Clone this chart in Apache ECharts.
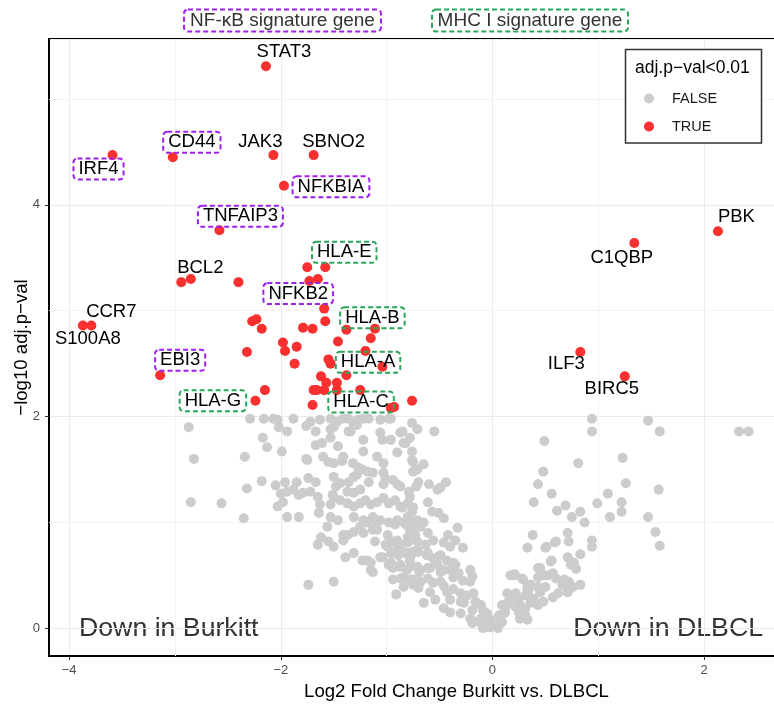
<!DOCTYPE html>
<html>
<head>
<meta charset="utf-8">
<script src="https://cdn.jsdelivr.net/npm/echarts@6/dist/echarts.min.js"></script>
<style>
  html, body { margin: 0; padding: 0; background: #fff; }
  #chart { width: 774px; height: 708px; }
</style>
</head>
<body>
<div id="chart"></div>
<script>
// Volcano plot: Burkitt vs DLBCL, x = log2 fold change, y = -log10 adj. p-value

// labelled significant genes
const geneNames = ['STAT3', 'IRF4', 'CD44', 'JAK3', 'SBNO2', 'NFKBIA', 'TNFAIP3', 'PBK', 'C1QBP', 'BCL2',
  'CCR7', 'S100A8', 'EBI3', 'HLA-G', 'HLA-E', 'NFKB2', 'HLA-B', 'HLA-A', 'HLA-C', 'ILF3', 'BIRC5'];
const geneFC = [-2.14, -3.59, -3.02, -2.07, -1.69, -1.97, -2.58, 2.13, 1.34, -2.94,
  -3.79, -3.87, -3.14, -2.24, -1.58, -1.59, -1.38, -1.53, -0.93, 0.83, 1.25];
const genePadj = [5.31, 4.47, 4.45, 4.47, 4.47, 4.18, 3.76, 3.75, 3.64, 3.27,
  2.86, 2.86, 2.39, 2.15, 3.41, 3.02, 2.82, 2.50, 2.09, 2.61, 2.38];
const geneSet = ['', 'NF-κB', 'NF-κB', '', '', 'NF-κB', 'NF-κB', '', '', '',
  '', '', 'NF-κB', 'MHC I', 'MHC I', 'NF-κB', 'MHC I', 'MHC I', 'MHC I', '', ''];

// other significant genes (adj.p < 0.01)
const sigPoints = [
  [-2.85, 3.30], [-2.40, 3.27], [-1.75, 3.41], [-1.73, 3.28], [-1.65, 3.30], [-1.58, 2.90],
  [-2.27, 2.90], [-2.23, 2.92], [-2.18, 2.83], [-2.32, 2.61], [-1.98, 2.70], [-1.96, 2.62],
  [-1.85, 2.66], [-1.87, 2.50], [-1.79, 2.84], [-1.70, 2.83], [-1.46, 2.71], [-1.11, 2.83],
  [-1.15, 2.74], [-1.20, 2.62], [-1.04, 2.47], [-1.55, 2.54], [-1.62, 2.38], [-1.57, 2.32],
  [-1.47, 2.32], [-1.38, 2.39], [-1.69, 2.25], [-1.66, 2.25], [-1.59, 2.25], [-1.47, 2.25],
  [-1.25, 2.25], [-1.70, 2.11], [-2.15, 2.25], [-0.96, 2.08], [-0.76, 2.15]
];

// non-significant genes
const nonSigPoints = [
  [-2.29, 1.98], [-2.07, 1.98], [-1.88, 1.98], [-2.87, 1.90], [-2.02, 1.90], [-1.94, 1.86], [-1.76, 1.91],
  [-1.72, 1.95], [-1.67, 1.86], [-2.17, 1.80], [-2.13, 1.71], [-1.99, 1.67], [-2.82, 1.60], [-2.34, 1.62],
  [-1.76, 1.60], [-1.67, 1.73], [-2.18, 1.39], [-2.32, 1.32], [-2.05, 1.35], [-1.96, 1.38], [-1.85, 1.38],
  [-1.74, 1.42], [-1.67, 1.38], [-2.00, 1.27], [-1.94, 1.29], [-1.88, 1.31], [-1.83, 1.26], [-1.79, 1.28],
  [-1.72, 1.29], [-1.65, 1.24], [-2.85, 1.19], [-2.56, 1.18], [-2.03, 1.15], [-1.98, 1.19], [-1.94, 1.05],
  [-1.83, 1.05], [-2.35, 1.04], [-1.64, 1.09], [-1.75, 1.59], [-1.61, 1.75], [-1.53, 1.80], [-1.60, 1.62],
  [-1.55, 1.57], [-1.50, 1.56], [-1.42, 1.58], [-1.32, 1.56], [-1.46, 1.72], [-1.50, 1.43], [-1.44, 1.37],
  [-1.36, 1.38], [-1.28, 1.45], [-1.23, 1.50], [-1.18, 1.48], [-1.13, 1.47], [-1.53, 1.05], [-1.46, 1.02],
  [-1.62, 0.86], [-1.55, 0.82], [-1.50, 0.77], [-1.39, 0.67], [-1.31, 0.71], [-1.23, 0.64], [-1.15, 0.62],
  [-1.13, 0.53], [-1.74, 0.41], [-1.50, 0.44], [-0.91, 0.32], [-0.84, 0.39],
  [-1.50, 1.24], [-1.44, 1.21], [-1.37, 1.18], [-1.31, 1.15], [-1.25, 1.18], [-1.20, 1.21], [-1.15, 1.17],
  [-1.09, 1.19], [-1.03, 1.23], [-0.98, 1.18], [-0.92, 1.21], [-0.87, 1.15], [-0.80, 1.18], [-0.75, 1.14],
  [-1.31, 1.05], [-1.22, 1.02], [-1.13, 1.05], [-1.06, 1.02], [-0.98, 1.00], [-0.90, 1.02], [-0.82, 0.98],
  [-0.75, 1.00], [-1.41, 0.88], [-1.31, 0.91], [-1.22, 0.90], [-1.09, 0.93], [-0.99, 0.88], [-0.90, 0.83],
  [-0.80, 0.86], [-0.73, 0.88], [-0.99, 0.77], [-0.90, 0.74], [-0.82, 0.71], [-0.75, 0.72], [-1.06, 0.67],
  [-0.96, 0.62], [-0.87, 0.58], [-0.78, 0.64], [-0.71, 0.58], [-0.94, 0.46], [-0.84, 0.48], [-0.75, 0.46],
  [-1.03, 1.47], [-0.94, 1.40], [-0.87, 1.34], [-0.79, 1.29], [-0.72, 1.34], [-1.09, 1.62], [-1.03, 1.56],
  [-0.90, 1.66], [-0.82, 1.75], [-0.76, 1.67], [-0.75, 1.57], [-0.71, 1.50], [-1.06, 1.85], [-0.96, 1.78],
  [-0.87, 1.85], [-0.78, 1.80], [-0.71, 1.88], [-1.22, 1.98], [-1.17, 1.98], [-1.04, 1.78], [-0.96, 1.98],
  [-0.85, 1.86], [-0.84, 1.75], [-0.55, 1.86], [-0.65, 1.55], [-1.22, 1.78], [-1.22, 1.67], [-1.53, 1.88],
  [-1.47, 1.95], [-1.41, 1.98], [-1.34, 1.86], [-1.31, 1.92], [-1.41, 1.62], [-1.31, 1.43], [-1.27, 1.52],
  [-1.17, 1.38], [-1.48, 1.34], [-1.51, 1.26], [-1.37, 1.29], [-1.31, 1.28], [-1.25, 1.31], [-1.01, 1.41],
  [-0.90, 1.36], [-1.03, 1.36], [-0.70, 1.38], [-0.60, 1.36], [-0.52, 1.31], [-0.44, 1.38], [-0.85, 1.14],
  [-0.76, 1.10], [-0.61, 1.19], [-0.57, 1.10], [-0.51, 1.09], [-1.63, 1.17], [-1.53, 1.17],
  [-0.76, 1.59], [-0.75, 1.48], [-0.49, 1.33], [-0.78, 1.24], [-0.80, 1.05], [-0.71, 1.02], [-0.46, 1.04],
  [-0.33, 0.95], [-0.42, 0.88], [-0.35, 0.83], [-0.28, 0.76], [-0.78, 0.93], [-0.68, 0.96], [-0.61, 0.90],
  [-0.56, 0.83], [-0.46, 0.81], [-0.40, 0.77], [-0.80, 0.71], [-0.71, 0.74], [-0.61, 0.71], [-0.52, 0.67],
  [-0.43, 0.64], [-0.37, 0.62], [-0.78, 0.58], [-0.68, 0.55], [-0.59, 0.57], [-0.49, 0.53], [-0.40, 0.55],
  [-0.32, 0.52], [-0.21, 0.55], [-0.28, 0.45], [-0.19, 0.49], [-0.65, 0.24], [-0.56, 0.43], [-0.46, 0.40],
  [-0.37, 0.37], [-0.30, 0.33], [-0.40, 0.27], [-0.27, 0.24], [-0.19, 0.17], [-0.19, 0.05], [-0.11, 0.09],
  [-0.05, 0.14], [-0.09, 0.00], [-0.02, 0.01], [0.05, 0.00], [0.08, 0.05], [0.10, 0.14], [0.14, 0.22],
  [0.17, 0.29], [0.22, 0.33], [0.25, 0.24], [0.29, 0.15], [0.33, 0.08], [0.31, 0.31], [0.21, 0.51],
  [0.29, 0.46], [0.33, 0.39], [0.34, 0.36], [0.43, 0.39], [0.43, 0.48], [0.45, 0.57], [0.48, 0.50],
  [0.33, 0.76], [0.38, 0.88], [0.39, 1.19], [0.43, 1.36], [0.48, 1.48], [0.49, 1.77], [0.51, 0.77],
  [0.56, 1.27], [0.59, 0.81], [0.61, 1.11], [0.69, 1.16], [0.56, 0.64], [0.57, 0.52], [0.71, 0.90],
  [0.72, 0.82], [0.75, 1.05], [0.77, 0.62], [0.79, 0.56], [0.81, 1.56], [0.83, 1.10], [0.87, 1.00],
  [0.83, 0.70], [0.60, 0.47], [0.68, 0.46], [0.71, 0.67], [0.76, 0.39], [0.83, 0.41], [0.72, 0.36],
  [0.94, 0.77], [0.94, 0.83], [0.99, 1.18], [1.09, 1.27], [1.11, 1.05], [1.22, 1.19], [1.22, 1.10],
  [1.23, 1.61], [1.26, 1.37], [0.94, 1.86], [0.94, 1.98], [1.47, 1.96], [1.58, 1.86], [1.57, 1.31],
  [1.47, 1.05], [1.54, 0.91], [1.58, 0.78], [2.33, 1.86], [2.42, 1.86],
  [-1.65, 0.79], [-1.56, 0.96], [-1.41, 0.83], [-1.37, 0.88], [-1.25, 0.96], [-1.18, 1.00], [-1.13, 0.93],
  [-1.09, 1.00], [-1.18, 0.64], [-1.15, 0.55], [-1.11, 0.82], [-1.04, 0.67], [-0.98, 0.60], [-1.01, 0.79],
  [-0.94, 0.82], [-0.87, 0.79], [-0.80, 0.81], [-0.71, 0.82], [-0.63, 0.79], [-0.96, 0.71], [-0.89, 0.69],
  [-0.84, 0.72], [-0.77, 0.69], [-0.70, 0.72], [-0.62, 0.69], [-0.94, 0.57], [-0.87, 0.60], [-0.81, 0.55],
  [-0.69, 0.53], [-0.61, 0.57], [-0.87, 0.47], [-0.78, 0.46], [-0.68, 0.44], [-0.61, 0.47], [-0.75, 0.41],
  [-0.70, 0.38], [-0.92, 0.98], [-0.84, 1.00], [-0.75, 0.96], [-0.65, 1.00],
  [-0.49, 0.44], [-0.43, 0.34], [-0.30, 0.25], [-0.24, 0.31], [-0.18, 0.33], [-0.16, 0.25], [-0.11, 0.22],
  [-0.09, 0.17], [-0.02, 0.08], [-0.18, 0.06], [-0.59, 0.34], [-0.54, 0.27], [-0.46, 0.19], [-0.40, 0.15],
  [-0.30, 0.14], [-0.21, 0.09], [-0.11, 0.05], [-0.04, 0.01], [0.03, 0.03], [0.09, 0.06], [0.06, 0.12],
  [0.12, 0.15], [0.09, 0.22], [0.15, 0.25], [0.14, 0.33], [0.19, 0.31], [0.24, 0.28], [0.22, 0.20],
  [0.25, 0.15], [0.31, 0.12], [0.26, 0.09], [0.17, 0.50], [0.20, 0.50], [0.28, 0.47], [0.33, 0.36],
  [0.34, 0.31], [0.36, 0.41], [0.50, 0.76], [0.60, 0.82], [0.74, 0.60], [0.72, 0.44], [0.71, 0.34],
  [0.62, 0.33], [0.57, 0.29], [0.66, 0.41], [0.43, 0.57], [0.52, 0.50], [0.55, 0.63], [0.50, 0.39],
  [0.45, 0.34], [0.39, 0.28], [0.36, 0.24], [0.43, 0.22], [0.48, 0.25], [0.31, 0.19], [-0.21, 0.44],
  [-0.56, 0.66], [-0.49, 0.69], [-0.52, 0.60], [-0.46, 0.55], [-0.35, 0.60], [-0.37, 0.48],
  [-2.16, 1.98], [-2.03, 1.97], [-1.63, 1.97], [-1.53, 1.98], [-1.36, 1.98], [-1.27, 1.97], [-1.06, 1.97],
  [-0.98, 1.98], [-0.76, 1.94], [-1.36, 1.86], [-1.50, 1.90], [-1.28, 1.92]
];

const minorX = [-3, -1, 1, 3];
const minorY = [1, 3, 5];

// label placement (pixel offsets from the point), repel-style
const labelOffset = {
  'STAT3': [18, -14.5], 'IRF4': [-14, 14], 'CD44': [19, -15], 'JAK3': [-13, -13.5], 'SBNO2': [20, -13.5],
  'NFKBIA': [47, 1], 'TNFAIP3': [21, -14], 'PBK': [18.5, -14], 'C1QBP': [-12.5, 15], 'BCL2': [19, -14],
  'CCR7': [20, -14], 'S100A8': [5, 13], 'EBI3': [20, -15], 'HLA-G': [-42.5, 0], 'HLA-E': [19, -15],
  'NFKB2': [-26, -15], 'HLA-B': [26, -12], 'HLA-A': [37.5, -1.5], 'HLA-C': [-33, -5], 'ILF3': [-14, 12],
  'BIRC5': [-13, 13]
};
const setColor = { 'NF-κB': '#A020F0', 'MHC I': '#2AA55A' };
const FONT = '"Liberation Sans", Arial, Helvetica, sans-serif';

function geneItem(i) {
  const name = geneNames[i];
  const set = geneSet[i];
  const label = {
    show: true, position: 'inside', offset: labelOffset[name], formatter: name,
    color: '#000', fontSize: 18.5, lineHeight: 19, fontFamily: FONT
  };
  if (set) {
    Object.assign(label, {
      borderColor: setColor[set], borderWidth: 2, borderType: [5, 3], borderRadius: 4,
      padding: [1, 5]
    });
  }
  return { name, value: [geneFC[i], genePadj[i]], label };
}

const sigData = sigPoints.map(p => ({ value: p })).concat(geneNames.map((_, i) => geneItem(i)));
const minus = v => String(v).replace('-', '\u2212');

const chart = echarts.init(document.getElementById('chart'));
chart.setOption({
  animation: false,
  textStyle: { fontFamily: FONT },
  // the panel runs on past the right edge of the picture
  grid: { left: 49, top: 39, right: -90, bottom: 52, outerBoundsMode: 'none', containLabel: false,
    show: true, borderColor: '#000', borderWidth: 2, backgroundColor: 'transparent' },
  legend: {
    left: 644, top: 91, padding: 0, orient: 'vertical', icon: 'circle', itemWidth: 10, itemHeight: 10, itemGap: 13,
    selectedMode: false, data: ['FALSE', 'TRUE'], z: 20,
    textStyle: { fontSize: 14.5, color: '#1a1a1a', padding: [0, 0, 0, 13] }
  },
  xAxis: {
    type: 'value', min: -4.19, max: 3.51, splitNumber: 4,
    name: 'Log2 Fold Change Burkitt vs. DLBCL', nameLocation: 'middle', nameGap: 26, nameMoveOverlap: false,
    nameTextStyle: { fontSize: 18.6, color: '#000' },
    axisLine: { show: true, onZero: false, lineStyle: { color: '#000', width: 2 } },
    axisTick: { show: true, length: 4, lineStyle: { color: '#333' } },
    axisLabel: { showMinLabel: false, showMaxLabel: false, color: '#4d4d4d', fontSize: 13, margin: 8, formatter: minus },
    splitLine: { show: true, lineStyle: { color: '#ebebeb', width: 1 } }
  },
  yAxis: {
    type: 'value', min: -0.262, max: 5.567, splitNumber: 3,
    name: '\u2212log10 adj.p\u2212val', nameLocation: 'middle', nameGap: 18, nameMoveOverlap: false,
    nameTextStyle: { fontSize: 18.6, color: '#000' },
    axisLine: { show: true, onZero: false, lineStyle: { color: '#000', width: 2 } },
    axisTick: { show: true, length: 4, lineStyle: { color: '#333' } },
    axisLabel: { showMinLabel: false, showMaxLabel: false, color: '#4d4d4d', fontSize: 13, margin: 9, formatter: minus },
    splitLine: { show: true, lineStyle: { color: '#ebebeb', width: 1 } }
  },
  series: [
    {
      name: 'FALSE', type: 'scatter', data: nonSigPoints, symbolSize: 10, z: 3,
      itemStyle: { color: '#CCCCCC', opacity: 1 },
      emphasis: { disabled: true },
      markLine: {
        silent: true, symbol: 'none', z: 1, animation: false,
        label: { show: false },
        lineStyle: { color: '#f3f3f3', width: 1, type: 'solid' },
        data: minorX.map(v => ({ xAxis: v })).concat(minorY.map(v => ({ yAxis: v })))
      }
    },
    {
      name: 'TRUE', type: 'scatter', data: sigData, symbolSize: 10, z: 4,
      itemStyle: { color: '#F8302F', opacity: 1 },
      label: { show: false },
      emphasis: { disabled: true }
    }
  ],
  graphic: [
    { type: 'rect', shape: { x: 184, y: 9.5, width: 197, height: 22, r: 4 },
      style: { fill: '#fff', stroke: setColor['NF-κB'], lineWidth: 2, lineDash: [5, 3] } },
    { type: 'text', style: { text: 'NF-\u03BAB signature gene', x: 282.5, y: 21, align: 'center', verticalAlign: 'middle',
      font: '19px ' + FONT, fill: '#333' } },
    { type: 'rect', shape: { x: 432, y: 9.5, width: 196, height: 22, r: 4 },
      style: { fill: '#fff', stroke: setColor['MHC I'], lineWidth: 2, lineDash: [5, 3] } },
    { type: 'text', style: { text: 'MHC I signature gene', x: 530, y: 21, align: 'center', verticalAlign: 'middle',
      font: '19px ' + FONT, fill: '#333' } },
    { type: 'rect', z: 2, shape: { x: 625.5, y: 49.5, width: 136, height: 93.5 },
      style: { fill: '#fff', stroke: '#333', lineWidth: 1.5 } },
    { type: 'text', z: 2, style: { text: 'adj.p\u2212val<0.01', x: 635, y: 68, align: 'left', verticalAlign: 'middle',
      font: '17.5px ' + FONT, fill: '#000' } },
    { type: 'text', style: { text: 'Down in Burkitt', x: 79, y: 629, align: 'left', verticalAlign: 'middle',
      font: '26.7px ' + FONT, fill: '#333' } },
    { type: 'text', style: { text: 'Down in DLBCL', x: 763, y: 629, align: 'right', verticalAlign: 'middle',
      font: '26.7px ' + FONT, fill: '#333' } }
  ]
});
</script>
</body>
</html>
